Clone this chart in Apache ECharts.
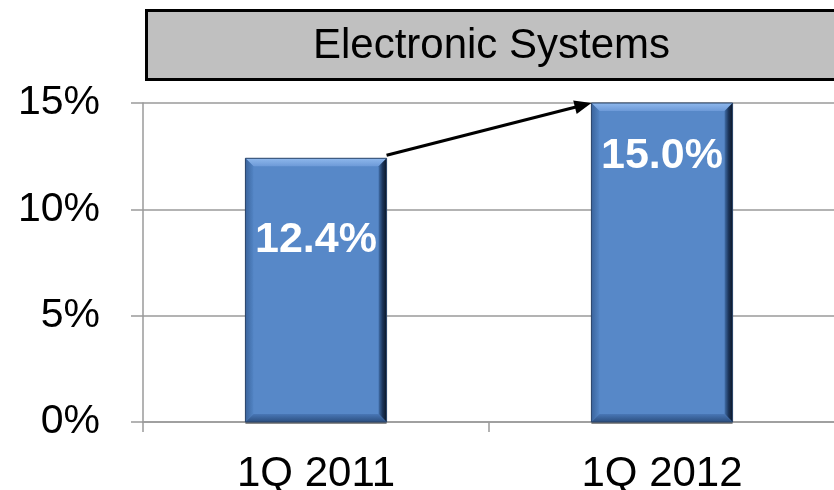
<!DOCTYPE html>
<html>
<head>
<meta charset="utf-8">
<style>
  html, body { margin: 0; padding: 0; background: #fff; }
  #chart { width: 834px; height: 490px; }
</style>
<script src="https://cdn.jsdelivr.net/npm/echarts@6/dist/echarts.min.js"></script>
</head>
<body>
<div id="chart"></div>
<script>
// Operating margin, Electronic Systems segment
const chartTitle = 'Electronic Systems';
const categories = ['1Q 2011', '1Q 2012'];
const margins = [12.4, 15.0];
const yTickValues = [0, 5, 10, 15];

// Layout / style constants
const FONT = '"Liberation Sans", Arial, sans-serif';
const BAR_RATIO = 0.408;      // bar width as a share of the category band
const BEVEL = 8;              // bevel depth of the bars, px
const LABEL_DROP = [82, 53];  // value label centre below the bar top, px

function linear(x0, y0, x1, y1, stops) {
  return new echarts.graphic.LinearGradient(x0, y0, x1, y1,
    stops.map((c, i) => ({ offset: i / (stops.length - 1), color: c })));
}

function renderBar(params, api) {
  const idx = api.value(0);
  const val = api.value(1);
  const top = api.coord([idx, val]);
  const base = api.coord([idx, 0]);
  const w = api.size([1, 0])[0] * BAR_RATIO;
  const x0 = top[0] - w / 2, x1 = top[0] + w / 2;
  const y0 = top[1], y1 = base[1];
  const b = BEVEL;
  return {
    type: 'group',
    children: [
      { type: 'rect', shape: { x: x0, y: y1 - 1, width: w, height: 3 },
        style: { fill: 'rgba(100,100,100,0.75)' } },
      { type: 'rect', shape: { x: x0, y: y0, width: w, height: y1 - y0 },
        style: { fill: '#5788c8' } },
      { type: 'polygon', shape: { points: [[x0, y0], [x1, y0], [x1 - b, y0 + b], [x0 + b, y0 + b]] },
        style: { fill: linear(0, 0, 0, 1, ['#8fb8ec', '#6d9ad8']) } },
      { type: 'polygon', shape: { points: [[x0, y0], [x0 + b, y0 + b], [x0 + b, y1 - b], [x0, y1]] },
        style: { fill: linear(0, 0, 1, 0, ['#3b649c', '#5284c4']) } },
      { type: 'polygon', shape: { points: [[x1, y0], [x1, y1], [x1 - b, y1 - b], [x1 - b, y0 + b]] },
        style: { fill: linear(0, 0, 1, 0, ['#416ea8', '#1c355a', '#0b1626']) } },
      { type: 'polygon', shape: { points: [[x0, y1], [x1, y1], [x1 - b, y1 - b], [x0 + b, y1 - b]] },
        style: { fill: linear(0, 0, 0, 1, ['#4977b6', '#2c4f80']) } },
      { type: 'rect', shape: { x: x0, y: y0, width: w, height: y1 - y0 },
        style: { fill: 'none', stroke: '#2a4468', lineWidth: 1 } },
      { type: 'text',
        style: { text: val.toFixed(1) + '%', x: top[0], y: y0 + LABEL_DROP[idx],
                 align: 'center', verticalAlign: 'middle', fill: '#ffffff',
                 fontSize: 43, fontWeight: 'bold', fontFamily: FONT } }
    ]
  };
}

// Arrow from the top-right corner of the first bar to the top-left corner of the second
function renderArrow(params, api) {
  const w = api.size([1, 0])[0] * BAR_RATIO;
  const a = api.coord([api.value(0), api.value(1)]);
  const c = api.coord([api.value(2), api.value(3)]);
  const sx = a[0] + w / 2, sy = a[1] - 3;
  const ex = c[0] - w / 2, ey = c[1];
  const dx = ex - sx, dy = ey - sy;
  const len = Math.sqrt(dx * dx + dy * dy);
  const ux = dx / len, uy = dy / len;
  const hl = 17, hw = 7;
  const bx = ex - ux * hl, by = ey - uy * hl;
  return {
    type: 'group',
    children: [
      { type: 'line', shape: { x1: sx, y1: sy, x2: bx + ux * 2, y2: by + uy * 2 },
        style: { stroke: '#000', lineWidth: 3.2 } },
      { type: 'polygon',
        shape: { points: [[ex, ey], [bx - uy * hw, by + ux * hw], [bx + uy * hw, by - ux * hw]] },
        style: { fill: '#000' } }
    ]
  };
}

const chart = echarts.init(document.getElementById('chart'), null, { renderer: 'canvas' });

const axisGray = '#9a9a9a';

chart.setOption({
  animation: false,
  backgroundColor: '#ffffff',
  graphic: [
    {
      type: 'group', left: 145, top: 9,
      children: [
        { type: 'rect', shape: { x: 0, y: 0, width: 692, height: 69 },
          style: { fill: '#c0c0c0', stroke: '#000', lineWidth: 3 } },
        { type: 'text',
          style: { text: chartTitle, x: 345, y: 36, align: 'center', verticalAlign: 'middle',
                   fill: '#000', fontSize: 42, fontFamily: FONT } }
      ]
    }
  ],
  grid: { left: 143, right: -1, top: 103, bottom: 68, containLabel: false, outerBoundsMode: 'none' },
  xAxis: {
    type: 'category',
    data: categories,
    boundaryGap: true,
    axisLine: { show: true, lineStyle: { color: axisGray, width: 1.5 } },
    axisTick: { show: true, alignWithLabel: false, length: 10, lineStyle: { color: axisGray, width: 1.5 } },
    axisLabel: { color: '#000', fontSize: 42, fontFamily: FONT, margin: 31 },
    splitLine: { show: false }
  },
  yAxis: {
    type: 'value',
    min: yTickValues[0],
    max: yTickValues[yTickValues.length - 1],
    interval: yTickValues[1] - yTickValues[0],
    axisLine: { show: true, lineStyle: { color: axisGray, width: 1.5 } },
    axisTick: { show: true, length: 12, lineStyle: { color: axisGray, width: 1.5 } },
    axisLabel: { color: '#000', fontSize: 41, fontFamily: FONT, margin: 43,
                 formatter: v => v + '%' },
    splitLine: { show: true, lineStyle: { color: axisGray, width: 1.5 } }
  },
  series: [
    {
      type: 'custom',
      renderItem: renderBar,
      encode: { x: 0, y: 1 },
      data: margins.map((v, i) => [i, v]),
      z: 2
    },
    {
      type: 'custom',
      renderItem: renderArrow,
      encode: { x: [0, 2], y: [1, 3] },
      data: [[0, margins[0], 1, margins[1]]],
      z: 3,
      silent: true
    }
  ]
});
</script>
</body>
</html>
